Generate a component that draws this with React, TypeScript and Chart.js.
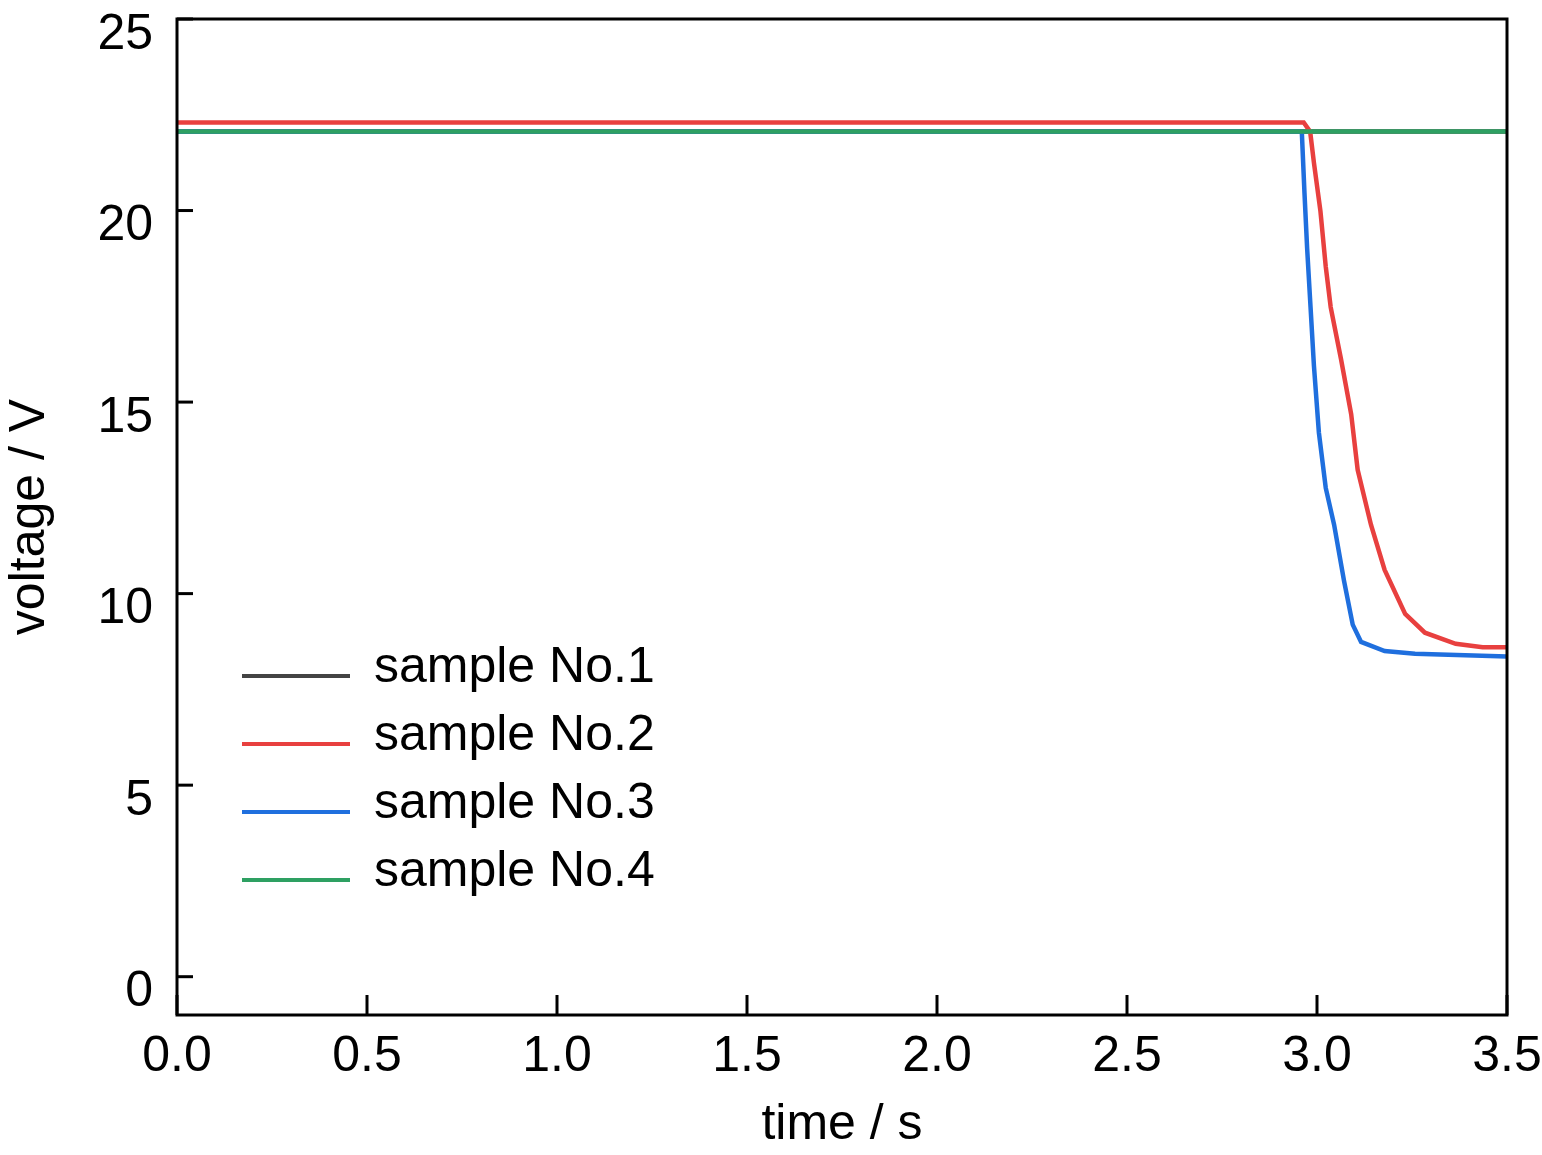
import React, { useEffect, useRef } from "react";
import { Chart, registerables } from "chart.js";
Chart.register(...registerables);

const labels = ["sample No.1", "sample No.2", "sample No.3", "sample No.4"];
const colors = ["#444444", "#e8403f", "#1f6fde", "#2ea062"];
const orders = [2, 1, 1, 0];
const s1t = [0, 3.5];
const s1v = [22.06, 22.06];
const s2t = [0, 2.965, 2.982, 2.992, 3.009, 3.023, 3.036, 3.063, 3.09, 3.107, 3.142, 3.178, 3.232, 3.284, 3.365, 3.436, 3.5];
const s2v = [22.3, 22.3, 22.06, 21.24, 19.99, 18.54, 17.48, 16.13, 14.68, 13.23, 11.8, 10.62, 9.47, 8.98, 8.69, 8.6, 8.6];
const s3t = [0, 2.96, 2.967, 2.974, 2.983, 2.992, 3.005, 3.023, 3.045, 3.071, 3.094, 3.116, 3.178, 3.258, 3.5];
const s3v = [22.06, 22.06, 20.47, 19.02, 17.48, 15.94, 14.2, 12.76, 11.8, 10.34, 9.19, 8.74, 8.5, 8.43, 8.36];
const s4t = [0, 3.5];
const s4v = [22.06, 22.06];
const yTicks = [0, 5, 10, 15, 20, 25];

const FONT = "'Liberation Sans Narrow', 'Liberation Sans', Arial, sans-serif";

export default function App() {
  const ref = useRef<HTMLCanvasElement>(null);
  useEffect(() => {
    const mk = (t: number[], v: number[]) => t.map((x, i) => ({ x, y: v[i] }));
    const series = [mk(s1t, s1v), mk(s2t, s2v), mk(s3t, s3v), mk(s4t, s4v)];
    const frame = {
      id: "frame",
      afterDraw(c: any) {
        const { ctx, chartArea: a, scales } = c;
        ctx.save();
        ctx.strokeStyle = "#000";
        ctx.lineWidth = 3;
        ctx.strokeRect(a.left, a.top, a.right - a.left, a.bottom - a.top);
        for (let v = 0; v <= 3.5; v += 0.5) {
          const x = scales.x.getPixelForValue(v);
          ctx.beginPath(); ctx.moveTo(x, a.bottom); ctx.lineTo(x, a.bottom - 20); ctx.stroke();
        }
        for (const v of yTicks) {
          const y = scales.y.getPixelForValue(v);
          ctx.beginPath(); ctx.moveTo(a.left, y); ctx.lineTo(a.left + 16, y); ctx.stroke();
        }
        ctx.font = "50px " + FONT;
        ctx.textBaseline = "middle";
        labels.forEach((l, i) => {
          const y = 676 + i * 68;
          ctx.strokeStyle = colors[i];
          ctx.lineWidth = 4;
          ctx.beginPath(); ctx.moveTo(242, y); ctx.lineTo(350, y); ctx.stroke();
          ctx.fillStyle = "#000";
          ctx.fillText(l, 374, y - 8);
        });
        ctx.restore();
      },
    };
    const chart = new Chart(ref.current!, {
      type: "line",
      data: {
        datasets: series.map((d, i) => ({
          label: labels[i], data: d, borderColor: colors[i], borderWidth: 4.5,
          pointRadius: 0, tension: 0, fill: false, order: orders[i],
        })),
      },
      options: {
        animation: false, responsive: false, maintainAspectRatio: false,
        layout: { padding: { top: 19, right: 35, left: 0, bottom: 0 } },
        plugins: { legend: { display: false }, tooltip: { enabled: false } },
        scales: {
          x: {
            type: "linear", min: 0, max: 3.5,
            grid: { display: false }, border: { display: false },
            ticks: { stepSize: 0.5, color: "#000", font: { size: 50, family: FONT }, padding: 4,
              callback: (v: any) => Number(v).toFixed(1), maxRotation: 0, autoSkip: false },
            title: { display: true, text: "time / s", color: "#000", font: { size: 50, family: FONT }, padding: 0 },
            afterFit: (s: any) => { s.height = 140; s.paddingLeft = 0; s.paddingRight = 0; },
          },
          y: {
            min: -1, max: 25,
            grid: { display: false }, border: { display: false },
            afterBuildTicks: (s: any) => { s.ticks = yTicks.map((v) => ({ value: v })); },
            ticks: { color: "#000", font: { size: 50, family: FONT }, padding: 16, labelOffset: 16 },
            title: { display: true, text: "voltage / V", color: "#000", font: { size: 50, family: FONT }, padding: 0 },
            afterFit: (s: any) => { s.width = 177; s.paddingTop = 0; s.paddingBottom = 0; },
          },
        },
      },
      plugins: [frame],
    } as any);
    return () => chart.destroy();
  }, []);
  return (
    <div style={{ position: "absolute", left: 0, top: 0, background: "#fff" }}>
      <canvas ref={ref} width={1542} height={1155} style={{ width: 1542, height: 1155, display: "block" }} />
    </div>
  );
}
